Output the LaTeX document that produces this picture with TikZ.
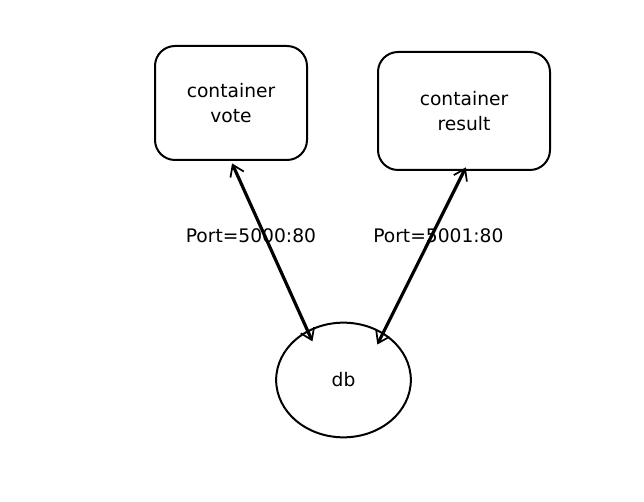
\documentclass[tikz,border=0pt]{standalone}
\usepackage{fontspec}
\setmainfont{DejaVu Sans}
\usetikzlibrary{arrows.meta,shapes.geometric}

\begin{document}
\begin{tikzpicture}[x=0.75pt,y=-0.75pt,
		font=\fontsize{14}{19}\selectfont,
		container/.style={draw,line width=1.5pt,rounded corners=15pt,align=center,inner sep=0pt},
		store/.style={draw,ellipse,line width=1.5pt,inner sep=0pt,minimum width=101pt,minimum height=86pt},
		port/.style={<->,line width=2.4pt,>={Straight Barb[length=8pt,width=11pt,line width=1.3pt]}}]
		\useasboundingbox (0,0) rectangle (644,502);
		\node (vote) [container,minimum width=114pt,minimum height=85.5pt] at (231,103) 
			{ container \\ vote }; 
		\node (result) [container,minimum width=129pt,minimum height=88.5pt] at (464,111) 
			{ container \\ result }; 
		\node (db) [store] at (343.5,380) 
			{ db }; 
		\draw [port,shorten <=2pt,shorten >=-9pt] (vote.south) to 
			node 
				[pos=0.4,xshift=-8pt,yshift=-5pt] 
				{ Port=5000:80 } 
			(db.126);
		\draw [port,shorten <=-3pt,shorten >=-10pt] (result.south) to 
			node 
				[pos=0.4,xshift=5pt] 
				{ Port=5001:80 } 
			(db.50);
	\end{tikzpicture}
\end{document}
